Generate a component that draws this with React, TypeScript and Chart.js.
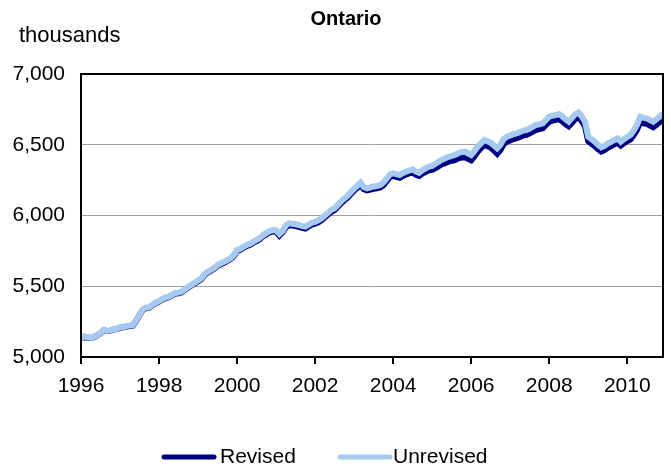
import React, { useEffect, useRef } from "react";
import { Chart, registerables } from "chart.js";

Chart.register(...registerables);

const startYear = 1996;
const tickMonths = [0, 24, 48, 72, 96, 120, 144, 168];
const yTicks = [5000, 5500, 6000, 6500, 7000];

const unrevised = [
  5132, 5145, 5140, 5135, 5142, 5155, 5170, 5192, 5185, 5188, 5195, 5200,
  5210, 5212, 5218, 5222, 5226, 5260, 5300, 5335, 5350, 5352, 5370, 5385,
  5395, 5410, 5420, 5426, 5440, 5452, 5455, 5462, 5480, 5497, 5510, 5525,
  5540, 5555, 5585, 5603, 5615, 5630, 5650, 5662, 5672, 5685, 5698, 5720,
  5756, 5765, 5780, 5791, 5800, 5815, 5827, 5840, 5862, 5875, 5890, 5897,
  5895, 5869, 5890, 5930, 5945, 5942, 5938, 5933, 5925, 5921, 5935, 5949,
  5955, 5965, 5980, 6000, 6020, 6040, 6051, 6075, 6100, 6120, 6140, 6165,
  6190, 6210, 6232, 6200, 6192, 6198, 6205, 6208, 6215, 6232, 6260, 6290,
  6298, 6292, 6286, 6300, 6310, 6318, 6326, 6310, 6302, 6320, 6333, 6345,
  6350, 6365, 6380, 6395, 6404, 6415, 6422, 6428, 6440, 6448, 6451, 6440,
  6428, 6455, 6486, 6510, 6534, 6525, 6515, 6495, 6475, 6500, 6540, 6557,
  6565, 6575, 6581, 6590, 6600, 6604, 6615, 6628, 6640, 6645, 6651, 6675,
  6698, 6705, 6710, 6717, 6700, 6680, 6663, 6690, 6715, 6727, 6700, 6663,
  6557, 6540, 6522, 6500, 6482, 6492, 6508, 6520, 6533, 6545, 6522, 6540,
  6555, 6569, 6600, 6640, 6698, 6690, 6687, 6675, 6663, 6680, 6700, 6722,
];

const revised = [
  5130, 5143, 5138, 5134, 5140, 5153, 5168, 5190, 5183, 5186, 5193, 5198,
  5207, 5210, 5215, 5219, 5223, 5257, 5297, 5332, 5347, 5349, 5366, 5381,
  5391, 5406, 5416, 5422, 5436, 5448, 5451, 5458, 5476, 5493, 5506, 5520,
  5535, 5550, 5580, 5598, 5610, 5625, 5645, 5656, 5666, 5679, 5692, 5714,
  5750, 5758, 5773, 5784, 5793, 5808, 5820, 5832, 5854, 5866, 5881, 5888,
  5885, 5858, 5880, 5918, 5932, 5929, 5925, 5920, 5912, 5908, 5922, 5936,
  5942, 5952, 5967, 5987, 6007, 6027, 6038, 6062, 6087, 6107, 6127, 6152,
  6176, 6196, 6218, 6186, 6178, 6183, 6189, 6192, 6198, 6214, 6242, 6272,
  6280, 6273, 6266, 6280, 6290, 6297, 6305, 6288, 6280, 6296, 6309, 6320,
  6322, 6334, 6348, 6362, 6370, 6380, 6387, 6392, 6404, 6410, 6412, 6400,
  6390, 6418, 6450, 6475, 6500, 6490, 6480, 6458, 6436, 6462, 6505, 6522,
  6530, 6540, 6546, 6555, 6565, 6570, 6580, 6593, 6605, 6610, 6616, 6640,
  6663, 6670, 6676, 6683, 6666, 6646, 6630, 6656, 6682, 6694, 6668, 6630,
  6525, 6508, 6490, 6468, 6452, 6462, 6478, 6490, 6503, 6515, 6494, 6512,
  6525, 6538, 6568, 6605, 6662, 6652, 6648, 6636, 6624, 6640, 6660, 6680,
];

const seriesNames = ["Revised", "Unrevised"];
const seriesColors = ["#000080", "#a6caf0"];
const titleText = "Ontario";
const unitText = "thousands";

const FONT = "'Liberation Sans', Arial, sans-serif";

const overlayPlugin = {
  id: "overlay",
  afterDraw(chart: any) {
    const { ctx, chartArea } = chart;
    ctx.save();
    ctx.strokeStyle = "#000";
    ctx.lineWidth = 2;
    ctx.strokeRect(chartArea.left, chartArea.top, chartArea.right - chartArea.left, chartArea.bottom - chartArea.top);
    ctx.fillStyle = "#000";
    ctx.textBaseline = "middle";
    ctx.textAlign = "center";
    ctx.font = `bold 20px ${FONT}`;
    ctx.fillText(titleText, 346, 19);
    ctx.textAlign = "left";
    ctx.font = `22px ${FONT}`;
    ctx.fillText(unitText, 19, 36);
    const items = [
      { x: 164, tx: 220 },
      { x: 340, tx: 393 },
    ];
    const ly = 457;
    items.forEach((it, i) => {
      ctx.strokeStyle = seriesColors[i];
      ctx.lineWidth = 5;
      ctx.lineCap = "round";
      ctx.beginPath();
      ctx.moveTo(it.x, ly);
      ctx.lineTo(it.x + 50, ly);
      ctx.stroke();
      ctx.fillStyle = "#000";
      ctx.font = `21px ${FONT}`;
      ctx.textAlign = "left";
      ctx.fillText(seriesNames[i], it.tx, ly);
    });
    ctx.restore();
  },
};

export default function App() {
  const ref = useRef<HTMLCanvasElement | null>(null);
  useEffect(() => {
    if (!ref.current) return;
    const mk = (arr: number[]) => arr.map((v, i) => ({ x: i, y: v }));
    const chart = new Chart(ref.current, {
      type: "line",
      data: {
        datasets: [
          {
            label: seriesNames[0],
            data: mk(revised),
            borderColor: seriesColors[0],
            backgroundColor: seriesColors[0],
            borderWidth: 6,
            pointRadius: 0,
            tension: 0,
            order: 2,
          },
          {
            label: seriesNames[1],
            data: mk(unrevised),
            borderColor: seriesColors[1],
            backgroundColor: seriesColors[1],
            borderWidth: 6,
            pointRadius: 0,
            tension: 0,
            order: 1,
          },
        ],
      },
      options: {
        animation: false,
        responsive: false,
        maintainAspectRatio: false,
        layout: { padding: { left: 0, right: 8, top: 74, bottom: 0 } },
        plugins: {
          legend: { display: false },
          title: { display: false },
          tooltip: { enabled: false },
        },
        scales: {
          x: {
            type: "linear",
            min: 0,
            max: unrevised.length - 1,
            afterFit: (s: any) => {
              s.height = 109;
            },
            afterBuildTicks: (s: any) => {
              s.ticks = tickMonths.map((v) => ({ value: v }));
            },
            ticks: {
              callback: (v: any) => String(startYear + Math.round(Number(v) / 12)),
              color: "#000",
              font: { family: FONT, size: 21 },
              padding: 10,
              maxRotation: 0,
              autoSkip: false,
            },
            grid: {
              drawOnChartArea: false,
              drawTicks: true,
              tickLength: 7,
              color: "#000",
              lineWidth: 2,
            },
            border: { display: true, color: "#000", width: 2 },
          },
          y: {
            min: 5000,
            max: 7000,
            afterFit: (s: any) => {
              s.width = 81;
            },
            afterBuildTicks: (s: any) => {
              s.ticks = yTicks.map((v) => ({ value: v }));
            },
            ticks: {
              callback: (v: any) => Number(v).toLocaleString("en-US"),
              color: "#000",
              font: { family: FONT, size: 21 },
              padding: 16,
            },
            grid: {
              drawTicks: false,
              color: "#a0a0a0",
              lineWidth: 1,
            },
            border: { display: true, color: "#000", width: 2 },
          },
        },
      },
      plugins: [overlayPlugin],
    } as any);
    return () => chart.destroy();
  }, []);
  return (
    <div style={{ position: "absolute", left: 0, top: 0, width: 671, height: 466, background: "#fff" }}>
      <canvas ref={ref} width={671} height={466} style={{ display: "block" }} />
    </div>
  );
}
